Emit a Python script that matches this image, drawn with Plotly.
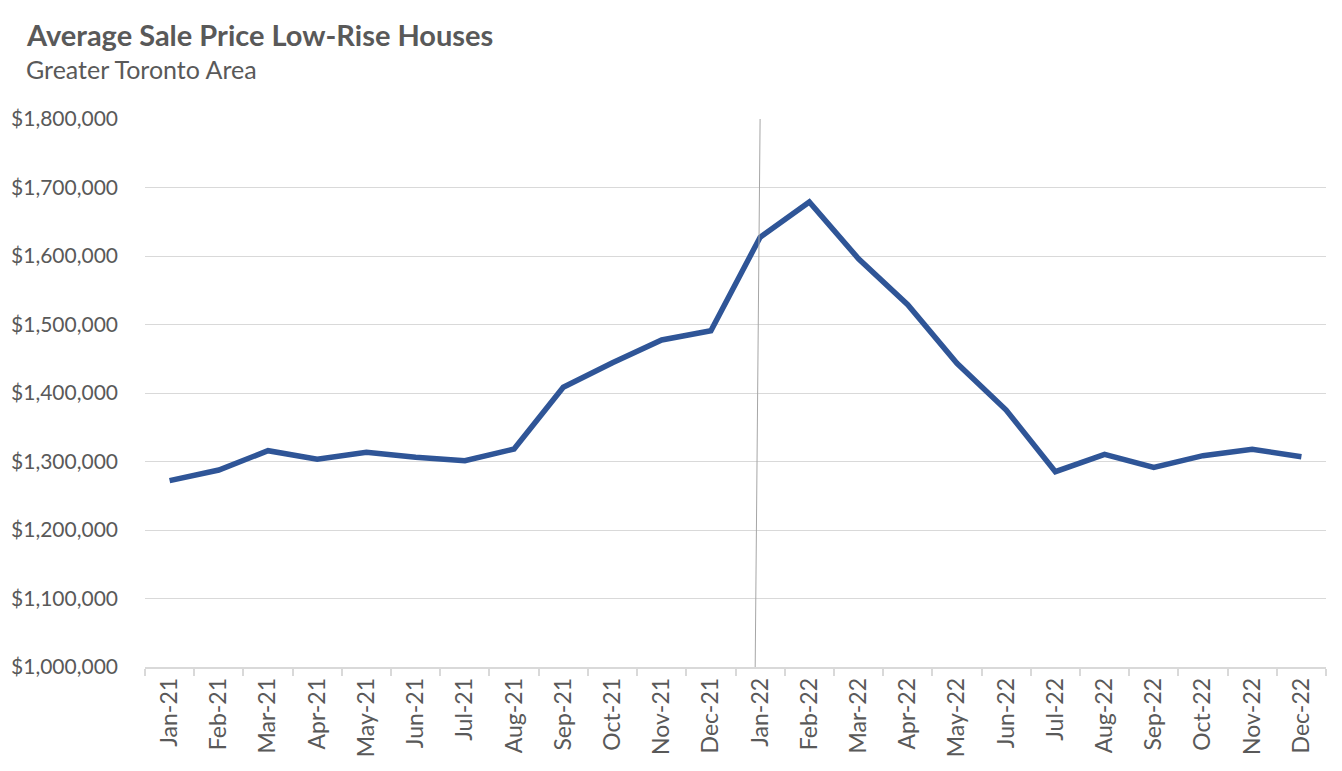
import plotly.graph_objects as go

months = ["Jan-21", "Feb-21", "Mar-21", "Apr-21", "May-21", "Jun-21", "Jul-21", "Aug-21",
          "Sep-21", "Oct-21", "Nov-21", "Dec-21", "Jan-22", "Feb-22", "Mar-22", "Apr-22",
          "May-22", "Jun-22", "Jul-22", "Aug-22", "Sep-22", "Oct-22", "Nov-22", "Dec-22"]
avg_price = [1272000, 1287600, 1315800, 1303200, 1313400, 1306100, 1301200, 1318200,
             1408300, 1444200, 1477400, 1491000, 1627300, 1678800, 1596000, 1528900,
             1443400, 1375200, 1285100, 1310500, 1291500, 1308500, 1317800, 1307000]
y_ticks = [1000000, 1100000, 1200000, 1300000, 1400000, 1500000, 1600000, 1700000, 1800000]
marker_month_index = 12  # Jan-22 reference line

# page body has an 8px margin, so the figure is drawn slightly smaller
W, H = 1334, 763
ML, MR, MT, MB = 137, 16, 111, 104
pw = W - ML - MR
ph = H - MT - MB
FONT = "Lato, Noto Sans, sans-serif"
GREY = "#595959"

fig = go.Figure()
fig.add_trace(go.Scatter(
    x=months, y=avg_price, mode="lines",
    line=dict(color="#2F5597", width=5.5, shape="linear"),
    hoverinfo="skip", showlegend=False,
))

fig.add_shape(type="line", xref="x", yref="y",
              x0=marker_month_index - 0.1, y0=y_ticks[0],
              x1=marker_month_index, y1=y_ticks[-1],
              line=dict(color="#A6A6A6", width=1), layer="above")

fig.add_annotation(text="<b>Average Sale Price Low-Rise Houses</b>", xref="paper", yref="paper",
                   x=(16 - ML) / pw, y=1 + (MT - 7) / ph, xanchor="left", yanchor="top",
                   showarrow=False, font=dict(family=FONT, size=29, color=GREY))
fig.add_annotation(text="Greater Toronto Area", xref="paper", yref="paper",
                   x=(16 - ML) / pw, y=1 + (MT - 44) / ph, xanchor="left", yanchor="top",
                   showarrow=False, font=dict(family=FONT, size=25, color=GREY))

fig.update_layout(
    width=W, height=H,
    margin=dict(l=ML, r=MR, t=MT, b=MB, autoexpand=False),
    paper_bgcolor="white", plot_bgcolor="white",
    font=dict(family=FONT, color=GREY),
    xaxis=dict(
        type="category", categoryorder="array", categoryarray=months,
        range=[-0.5, len(months) - 0.5], tickangle=-90, tickson="boundaries",
        showgrid=False, showline=True, linecolor="#D9D9D9", linewidth=1.5,
        ticks="outside", ticklen=7, tickcolor="#D9D9D9", tickwidth=1.5,
        tickfont=dict(family=FONT, size=23, color=GREY), zeroline=False,
    ),
    yaxis=dict(
        range=[y_ticks[0], y_ticks[-1]], tickmode="array", tickvals=y_ticks,
        ticktext=["${:,}".format(v) for v in y_ticks],
        showgrid=True, gridcolor="#D9D9D9", gridwidth=1, showline=False, zeroline=False,
        ticks="", ticklabelstandoff=26,
        tickfont=dict(family=FONT, size=21, color=GREY),
    ),
)

fig.write_html("out.html")
